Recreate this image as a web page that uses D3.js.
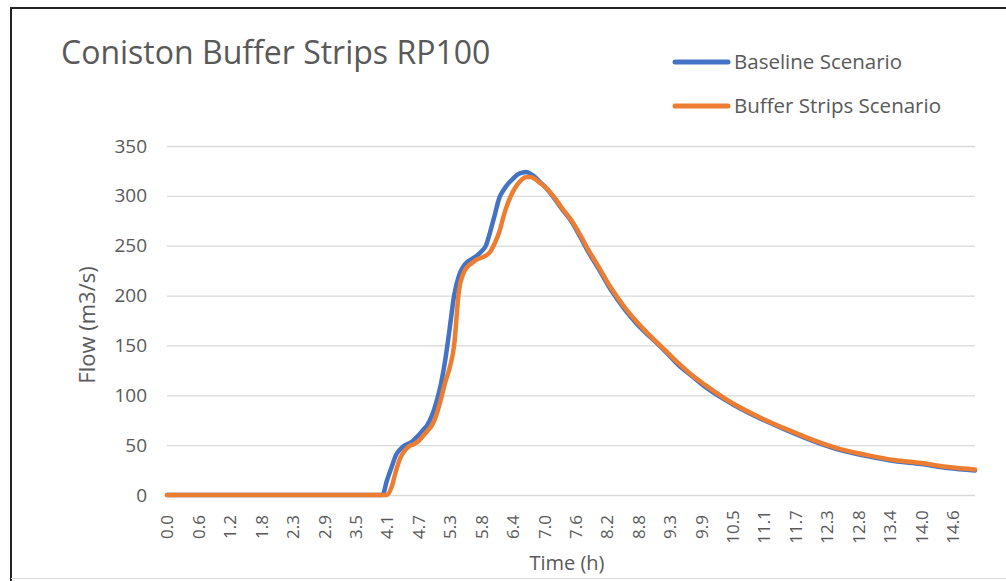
<html>
<script src="https://d3js.org/d3.v7.min.js"></script>
<style>
body{
    margin:0;
    background:#fff;
}
text{
    font-family:"Open Sans", sans-serif;
    fill:#595959;
}
</style>
<body>
<svg class="chart" width="1006" height="581"></svg>
</body>
<script>
// time in hours
const timeH = [0, 4.0, 4.08, 4.17, 4.25, 4.33, 4.42, 4.5, 4.58, 4.67, 4.75, 4.83, 4.92, 5.0, 5.08, 5.17, 5.25, 5.33, 5.42, 5.5,
    5.58, 5.67, 5.75, 5.83, 5.92, 6.0, 6.08, 6.17, 6.25, 6.33, 6.42, 6.5, 6.58, 6.67, 6.75, 6.83, 6.92, 7.0, 7.17, 7.33,
    7.5, 7.67, 7.83, 8.0, 8.25, 8.5, 8.75, 9.0, 9.25, 9.5, 9.75, 10.0, 10.5, 11.0, 11.5, 12.0, 12.5, 13.0, 13.5, 14.0,
    14.5, 15.0];
const baseline = [0, 0, 14, 28, 40, 46, 50, 52, 55, 60, 65, 70, 80, 93, 110, 137, 168, 200, 220, 229,
    234, 237, 240, 244, 250, 264, 280, 298, 306, 312, 317, 321, 323, 324, 322, 319, 314, 310, 299, 287,
    275, 259, 243, 228, 205, 186, 170, 157, 144, 130, 119, 108, 91, 77, 65, 54, 45, 39, 34, 31,
    27, 24.5];
const bufferStrips = [0, 0, 0, 8, 24, 37, 45, 49, 51, 54, 59, 64, 70, 80, 95, 114, 128, 150, 205, 222,
    229, 233, 236, 238, 240, 244, 252, 264, 280, 293, 304, 311, 316, 319, 319, 317, 313, 310, 300, 288,
    276, 261, 245, 230, 207, 188, 172, 158, 145, 132, 120, 110, 92, 78, 66, 55, 46, 40, 35, 32,
    28, 25.5];
const seriesNames = ['Baseline Scenario', 'Buffer Strips Scenario'];
const xTickLabels = ['0.0', '0.6', '1.2', '1.8', '2.3', '2.9', '3.5', '4.1', '4.7', '5.3', '5.8', '6.4', '7.0',
    '7.6', '8.2', '8.8', '9.3', '9.9', '10.5', '11.1', '11.7', '12.3', '12.8', '13.4', '14.0', '14.6'];
const yTicks = [0, 50, 100, 150, 200, 250, 300, 350];
const colors = ['#4472c4', '#ed7d31'];

const svg = d3.select('.chart');

// chart frame
svg.append('line').attr('x1', 11).attr('x2', 11).attr('y1', 7).attr('y2', 581)
    .attr('stroke', '#222').attr('stroke-width', 2);
svg.append('line').attr('x1', 11).attr('x2', 1006).attr('y1', 8).attr('y2', 8)
    .attr('stroke', '#222').attr('stroke-width', 2);
svg.append('line').attr('x1', 11).attr('x2', 1006).attr('y1', 578.5).attr('y2', 578.5)
    .attr('stroke', '#d9d9d9').attr('stroke-width', 1);

const x = d3.scaleLinear().domain([0, 15]).range([167, 975]);
const y = d3.scaleLinear().domain([0, 350]).range([495, 146]);

// gridlines + y labels
svg.append('g')
    .attr('transform', 'translate(167,0)')
    .call(d3.axisLeft(y).tickValues(yTicks).tickSize(-808).tickPadding(20))
    .call(g => {
        g.select('.domain').remove();
        g.selectAll('line').attr('stroke', '#d9d9d9').attr('stroke-width', 1.3);
        g.selectAll('text').attr('font-size', 19).attr('fill', '#595959');
    });

// x axis labels, one every 7 steps of 5 minutes
svg.append('g')
    .attr('transform', 'translate(0,495)')
    .call(d3.axisBottom(x)
        .tickValues(xTickLabels.map((d, i) => i * 7 / 12))
        .tickFormat((d, i) => xTickLabels[i])
        .tickSize(0))
    .call(g => {
        g.select('.domain').remove();
        g.selectAll('text')
            .attr('font-size', 17)
            .attr('fill', '#595959')
            .attr('text-anchor', 'middle')
            .attr('dy', '0.35em')
            .attr('transform', 'translate(0,32) rotate(-90)')
            .attr('y', 0);
    });

const line = d3.line()
    .curve(d3.curveMonotoneX)
    .x(d => x(d[0]))
    .y(d => y(d[1]));

[baseline, bufferStrips].forEach((vals, k) => {
    svg.append('path')
        .attr('d', line(timeH.map((t, i) => [t, vals[i]])))
        .attr('fill', 'none')
        .attr('stroke', colors[k])
        .attr('stroke-width', 4.5)
        .attr('stroke-linejoin', 'round')
        .attr('stroke-linecap', 'round');
});

// titles
svg.append('text')
    .attr('x', 61).attr('y', 64)
    .attr('font-size', 32)
    .text('Coniston Buffer Strips RP100');

svg.append('text')
    .attr('transform', 'translate(95,325) rotate(-90)')
    .attr('text-anchor', 'middle')
    .attr('font-size', 22)
    .text('Flow (m3/s)');

svg.append('text')
    .attr('x', 567).attr('y', 570)
    .attr('text-anchor', 'middle')
    .attr('font-size', 20)
    .text('Time (h)');

// legend
const legend = svg.append('g')
    .selectAll('g')
    .data(seriesNames)
    .join('g')
    .attr('transform', (d, i) => `translate(675,${62 + i * 44})`);
legend.append('line')
    .attr('x1', 0).attr('x2', 53)
    .attr('stroke', (d, i) => colors[i])
    .attr('stroke-width', 5)
    .attr('stroke-linecap', 'round');
legend.append('text')
    .attr('x', 59).attr('dy', '0.35em')
    .attr('font-size', 20.5)
    .text(d => d);
</script>
</html>
